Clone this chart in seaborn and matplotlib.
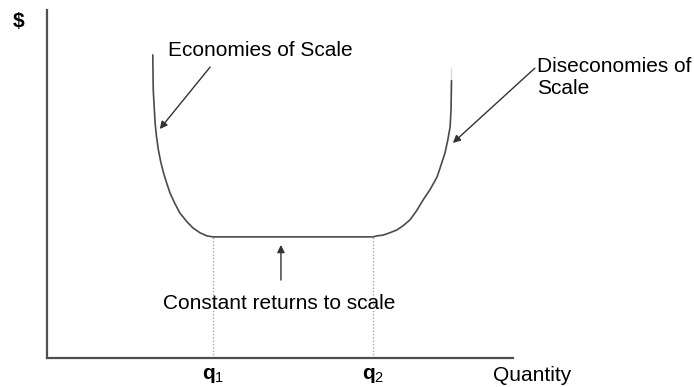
import matplotlib
matplotlib.use('Agg')
import matplotlib.pyplot as plt
import seaborn as sns
import pandas as pd

# Long-run average cost curve (x = quantity, y = $)
lac_left_x = [22.7, 22.8, 23.2, 23.5, 23.9, 24.4, 25.0, 25.7, 26.4, 27.4,
              28.5, 30.0, 31.3, 32.8, 34.3, 35.6]
lac_left_y = [87.1, 77.0, 67.5, 63.6, 59.8, 56.4, 53.2, 50.2, 47.4, 44.5,
              41.7, 39.2, 37.4, 36.0, 35.1, 34.8]
lac_flat_x = [35.6, 70.0]
lac_flat_y = [34.8, 34.8]
lac_right_x = [70.0, 70.8, 72.1, 73.6, 75.1, 76.5, 77.9, 79.3, 80.7, 82.2,
               83.7, 84.5, 85.4, 86.0, 86.5, 86.7, 86.8, 86.8]
lac_right_y = [34.8, 35.1, 35.3, 36.0, 36.8, 38.1, 39.7, 42.3, 45.4, 48.4,
               52.0, 55.2, 58.9, 62.6, 66.4, 71.3, 76.1, 83.3]

q_positions = [35.6, 70.0]
q_labels = [r'$\mathbf{q}_{\mathrm{1}}$', r'$\mathbf{q}_{\mathrm{2}}$']

sns.set_style('white')
plt.rcParams['font.family'] = ['Liberation Sans', 'DejaVu Sans']
plt.rcParams['mathtext.fontset'] = 'custom'
plt.rcParams['mathtext.rm'] = 'Liberation Sans'
plt.rcParams['mathtext.bf'] = 'Liberation Sans:bold'

fig = plt.figure(figsize=(6.94, 3.87), dpi=100)
ax = fig.add_axes([47 / 694, 29 / 387, 466 / 694, 348 / 387])

curve = pd.DataFrame({
    'q': lac_left_x + lac_flat_x[1:] + lac_right_x[1:],
    'cost': lac_left_y + lac_flat_y[1:] + lac_right_y[1:],
})
sns.lineplot(data=curve, x='q', y='cost', sort=False, ax=ax,
             color='#4a4a4a', linewidth=1.2)

# dotted guides down to the axis
for q in q_positions:
    ax.plot([q, q], [0, lac_flat_y[0]], color='#9a9a9a', linestyle=':', linewidth=0.9)

ax.set_xlim(0, 100)
ax.set_ylim(0, 100)
ax.set_xticks([])
ax.set_yticks([])
ax.set_xlabel('')
ax.set_ylabel('')
for side in ['top', 'right']:
    ax.spines[side].set_visible(False)
for side in ['left', 'bottom']:
    ax.spines[side].set_color('#505050')
    ax.spines[side].set_linewidth(1.6)

fs = 15
txt = dict(fontsize=fs, color='black')
ax.text(-6.2, 96.6, '$', ha='center', va='center', clip_on=False,
        fontweight='bold', **txt)
ax.text(95.7, -4.9, 'Quantity', ha='left', va='center', clip_on=False, **txt)
for q, lab in zip(q_positions, q_labels):
    ax.text(q, -4.9, lab, ha='center', va='center', clip_on=False, **txt)

arrow = dict(arrowstyle='-|>', color='#333333', lw=1.0, mutation_scale=11,
             shrinkA=0, shrinkB=0)
ax.text(26.0, 88.5, 'Economies of Scale', ha='left', va='center', **txt)
ax.annotate('', xy=(24.2, 65.8), xytext=(35.0, 83.6), arrowprops=arrow)

ax.text(105.2, 80.6, 'Diseconomies of\nScale', ha='left', va='center',
        linespacing=1.2, clip_on=False, **txt)
ax.annotate('', xy=(87.1, 61.8), xytext=(104.7, 83.3), arrowprops=arrow,
            annotation_clip=False)

ax.text(49.9, 15.8, 'Constant returns to scale', ha='center', va='center', **txt)
ax.annotate('', xy=(50.2, 32.5), xytext=(50.2, 22.4), arrowprops=arrow)

fig.savefig('out.png', dpi=100)
